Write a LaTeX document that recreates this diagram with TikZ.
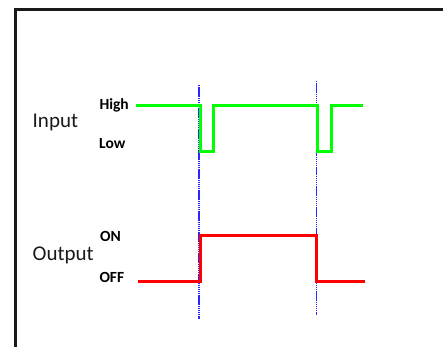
\documentclass[tikz,border=0pt]{standalone}
\usepackage{fontspec}
\setmainfont{Carlito}
\usepackage{xcolor}
\usepackage{tikz}
\usetikzlibrary{positioning}
\definecolor{SigGreen}{RGB}{0, 255, 0}
\definecolor{SigRed}{RGB}{255, 0, 0}
\definecolor{MarkBlue}{RGB}{40, 40, 255}
\tikzset{
  frame/.style={line width=2.2pt, draw=black!90},
  siglab/.style={inner sep=0pt, anchor=base west,
    font=\fontsize{21}{24}\selectfont, text=black!90},
  lvllab/.style={inner sep=0pt, anchor=base west,
    font=\fontsize{15.5}{18}\selectfont\bfseries, text=black},
  inwave/.style={line width=3pt, draw=SigGreen},
  outwave/.style={line width=3pt, draw=SigRed},
  tmark/.style={line width=1.3pt, draw=MarkBlue, dash pattern=on 1.5pt off 0.6pt},
}
\begin{document}
\begin{tikzpicture}[x=1pt, y=-1pt]
  \useasboundingbox (0,0) rectangle (443,347);
  % outer frame (cut off at right and bottom)
  \draw[frame] (15.5,347) -- (15.5,9.5) -- (443,9.5);
  % labels
  \node[siglab] (inp) at (32.5,127.7) {Input};
  \node[siglab] (outp) at (32.5,260) {Output};
  \node[lvllab] (high) at (99.3,109.3) {High};
  \node[lvllab] (low) at (99,148.3) {Low};
  \node[lvllab] (on) at (100,241.7) {ON};
  \node[lvllab] (off) at (99.3,282.7) {OFF};
  % switching instants
  \draw[tmark] (199,85) -- (199,319);
  \draw[tmark] (316.7,81) -- (316.7,315);
  % input signal
  \draw[inwave] (136,106) -- (200.5,106) -- (200.5,152) -- (213,152)
    -- (213,106) -- (317.5,106) -- (317.5,152) -- (331,152)
    -- (331,106) -- (363,106);
  % output signal
  \draw[outwave] (138,281) -- (200.5,281) -- (200.5,235) -- (316.7,235)
    -- (316.7,281) -- (365,281);
\end{tikzpicture}
\end{document}
